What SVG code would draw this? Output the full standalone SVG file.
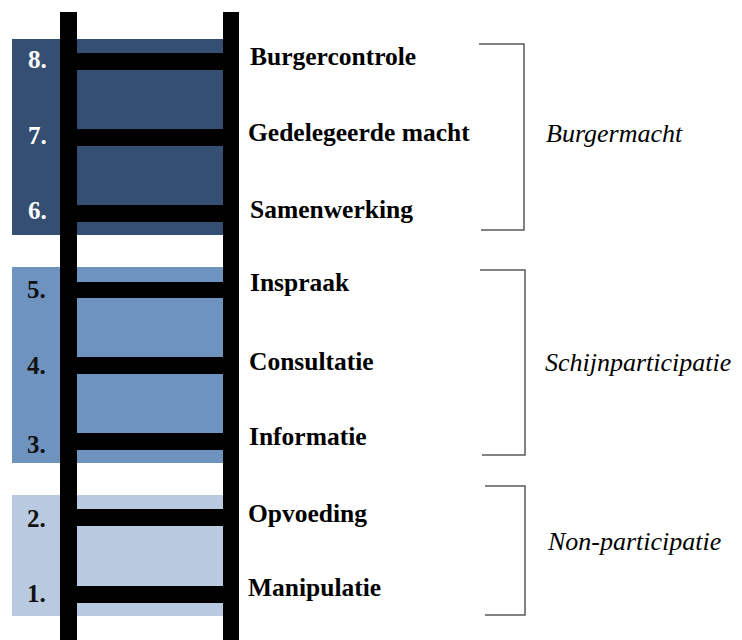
<svg xmlns="http://www.w3.org/2000/svg" width="742" height="640" viewBox="0 0 742 640">
  <style>
    .band-hi { fill: #344f72; }
    .band-mid { fill: #6f93bf; }
    .band-lo { fill: #b9c9e0; }
    .rail { fill: #000000; }
    .num { font-family: "Liberation Serif", "Times New Roman", serif; font-weight: bold; font-size: 25px; }
    .num-light { fill: #ffffff; }
    .num-dark { fill: #111111; }
    .step { font-family: "Liberation Serif", "Times New Roman", serif; font-weight: bold; font-size: 25.5px; fill: #000000; }
    .group { font-family: "Liberation Serif", "Times New Roman", serif; font-style: italic; font-size: 26px; fill: #000000; }
    .brace { fill: none; stroke: #5a5a5a; stroke-width: 1.5; }
  </style>

  <rect width="742" height="640" fill="#ffffff"/>

  <!-- coloured bands behind the ladder -->
  <g id="bands">
    <rect class="band-hi" x="12" y="39" width="211" height="196"/>
    <rect class="band-mid" x="12" y="267" width="211" height="196"/>
    <rect class="band-lo" x="12" y="495" width="211" height="121"/>
  </g>

  <!-- ladder: two rails and eight rungs -->
  <g id="ladder">
    <rect class="rail" x="60" y="12" width="17" height="628"/>
    <rect class="rail" x="223" y="12" width="16" height="628"/>
    <rect class="rail" x="60" y="53" width="179" height="17"/>
    <rect class="rail" x="60" y="129" width="179" height="17"/>
    <rect class="rail" x="60" y="205" width="179" height="17"/>
    <rect class="rail" x="60" y="282" width="179" height="16"/>
    <rect class="rail" x="60" y="357" width="179" height="17"/>
    <rect class="rail" x="60" y="433" width="179" height="17"/>
    <rect class="rail" x="60" y="509" width="179" height="17"/>
    <rect class="rail" x="60" y="586" width="179" height="17"/>
  </g>

  <!-- rung numbers -->
  <g id="numbers">
    <text class="num num-light" x="28" y="68">8.</text>
    <text class="num num-light" x="28" y="144">7.</text>
    <text class="num num-light" x="28" y="219">6.</text>
    <text class="num num-dark" x="27" y="298">5.</text>
    <text class="num num-dark" x="27" y="374">4.</text>
    <text class="num num-dark" x="27" y="453">3.</text>
    <text class="num num-dark" x="27" y="527">2.</text>
    <text class="num num-dark" x="27" y="602">1.</text>
  </g>

  <!-- rung labels -->
  <g id="step-8"><text class="step" x="250" y="65">Burgercontrole</text></g>
  <g id="step-7"><text class="step" x="248" y="141">Gedelegeerde macht</text></g>
  <g id="step-6"><text class="step" x="250" y="218">Samenwerking</text></g>
  <g id="step-5"><text class="step" x="250" y="291">Inspraak</text></g>
  <g id="step-4"><text class="step" x="249" y="370">Consultatie</text></g>
  <g id="step-3"><text class="step" x="249" y="445">Informatie</text></g>
  <g id="step-2"><text class="step" x="248" y="522">Opvoeding</text></g>
  <g id="step-1"><text class="step" x="248" y="596">Manipulatie</text></g>

  <!-- group brackets -->
  <g id="brackets">
    <path class="brace" d="M479,44 H524 V230 H481"/>
    <path class="brace" d="M480,270 H525 V455 H482"/>
    <path class="brace" d="M485,486 H525 V615 H485"/>
  </g>

  <!-- group labels -->
  <g id="group-burgermacht"><text class="group" x="546" y="142">Burgermacht</text></g>
  <g id="group-schijn"><text class="group" x="545" y="371">Schijnparticipatie</text></g>
  <g id="group-non"><text class="group" x="548" y="550">Non-participatie</text></g>
</svg>
